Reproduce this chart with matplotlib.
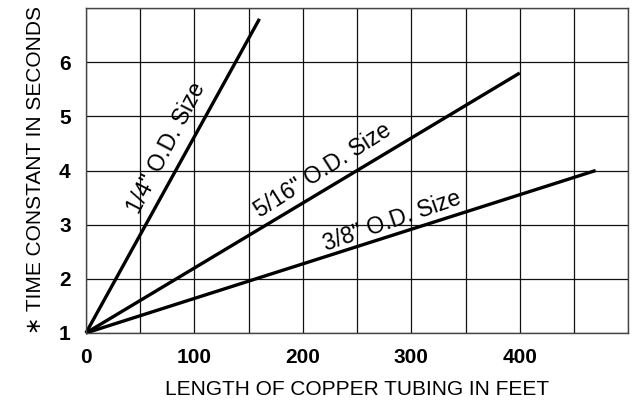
import numpy as np
import matplotlib
matplotlib.use("Agg")
import matplotlib.pyplot as plt
from matplotlib.ticker import MultipleLocator

plt.rcParams['font.family'] = ['Liberation Sans', 'DejaVu Sans']

# curves: (length ft, time constant s) end points, all start at (0, 1)
sizes = ['1/4" O.D. Size', '5/16" O.D. Size', '3/8" O.D. Size']
length_ft = [[0, 160], [0, 400], [0, 470]]
time_s = [[1, 6.8], [1, 5.8], [1, 4.0]]

# where each size label sits (data coords)
label_x = [74, 218, 282]
label_y = [4.42, 4.0, 3.06]

x_ticks = [0, 100, 200, 300, 400]
y_ticks = [1, 2, 3, 4, 5, 6]

fig = plt.figure(figsize=(6.32, 4.0), dpi=100)
ax = fig.add_axes([0.136, 0.1675, 0.858, 0.8125])

ax.set_xlim(0, 500)
ax.set_ylim(1, 7)
ax.xaxis.set_major_locator(plt.FixedLocator(x_ticks))
ax.xaxis.set_minor_locator(MultipleLocator(50))
ax.yaxis.set_major_locator(plt.FixedLocator(y_ticks))
ax.yaxis.set_minor_locator(MultipleLocator(1))
ax.grid(True, which='both', color='#111111', linewidth=0.9)
ax.set_axisbelow(True)
ax.tick_params(which='both', length=0)
ax.tick_params(axis='x', pad=11)
ax.tick_params(axis='y', pad=11)
for lab in ax.get_xticklabels() + ax.get_yticklabels():
    lab.set_fontsize(15)
    lab.set_fontweight('bold')
for sp in ax.spines.values():
    sp.set_color('#444444')
    sp.set_linewidth(1.0)

for xs, ys in zip(length_ft, time_s):
    ax.plot(xs, ys, color='black', linewidth=2.4, solid_capstyle='butt', clip_on=False)

fig.canvas.draw()
for name, xs, ys, lx, ly in zip(sizes, length_ft, time_s, label_x, label_y):
    p0 = ax.transData.transform((xs[0], ys[0]))
    p1 = ax.transData.transform((xs[1], ys[1]))
    ang = np.degrees(np.arctan2(p1[1] - p0[1], p1[0] - p0[0]))
    ax.text(lx, ly, name, rotation=ang + 1.5, rotation_mode='anchor',
            ha='center', va='center', fontsize=16.5)

ax.set_xlabel('LENGTH OF COPPER TUBING IN FEET', fontsize=15, labelpad=9)
ax.set_ylabel('\u2217 TIME CONSTANT IN SECONDS', fontsize=15, labelpad=10)

fig.savefig('out.png', dpi=100)
